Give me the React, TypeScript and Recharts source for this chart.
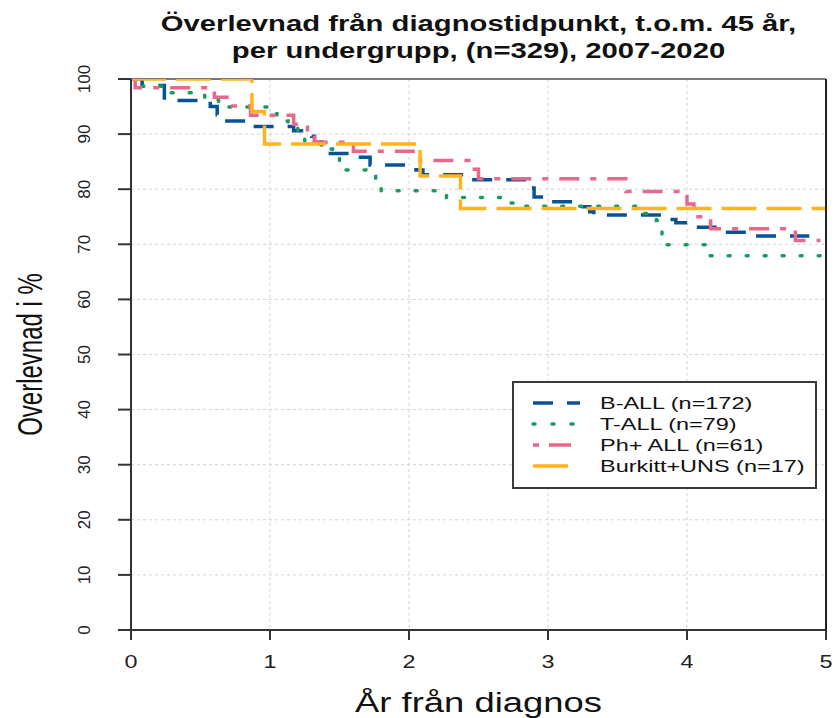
import { LineChart, Line, XAxis, YAxis, CartesianGrid, ReferenceLine } from 'recharts';

const yearTicks = [0, 1, 2, 3, 4, 5];
const pctTicks = [0, 10, 20, 30, 40, 50, 60, 70, 80, 90, 100];

// Kaplan-Meier steps: time (years) and survival (%)
const bAllTimes = [0, 0.08, 0.24, 0.57, 0.62, 0.65, 0.85, 1.17, 1.3, 1.32, 1.37, 1.62, 1.72, 2.05, 2.1, 2.42, 2.86, 2.9, 3.0, 3.23, 3.3, 3.33, 3.87, 3.92, 4.03, 4.26, 4.45, 4.88];
const bAllSurv = [100, 98.8, 96.1, 95.0, 93.5, 92.4, 91.4, 90.6, 89.6, 88.5, 86.5, 85.8, 84.4, 83.5, 82.6, 81.7, 80.2, 78.6, 77.7, 76.8, 75.9, 75.3, 74.5, 73.9, 73.1, 72.2, 71.5, 71.5];

const tAllTimes = [0, 0.03, 0.28, 0.53, 0.63, 1.01, 1.05, 1.13, 1.2, 1.25, 1.38, 1.45, 1.5, 1.52, 1.69, 1.76, 1.8, 2.27, 2.72, 2.82, 3.67, 3.78, 3.8, 3.82, 3.85, 4.15, 5];
const tAllSurv = [100, 98.7, 97.5, 96.2, 94.9, 93.7, 92.4, 91.1, 89.9, 88.6, 87.3, 86.1, 84.8, 83.5, 82.3, 81.0, 79.7, 78.5, 77.5, 76.9, 75.6, 74.3, 73.0, 71.5, 69.9, 67.9, 67.9];

const phAllTimes = [0, 0.03, 0.6, 0.69, 0.86, 1.17, 1.27, 1.32, 1.6, 2.08, 2.43, 2.5, 3.56, 4.0, 4.05, 4.17, 4.78, 4.96];
const phAllSurv = [100, 98.4, 96.7, 95.1, 93.4, 91.8, 90.2, 88.5, 86.9, 85.2, 83.6, 81.9, 79.6, 77.3, 75.0, 72.8, 70.7, 70.7];

const burkittTimes = [0, 0.87, 0.96, 2.08, 2.37, 5];
const burkittSurv = [100, 94.1, 88.2, 82.4, 76.5, 76.5];

const toSteps = (times: number[], surv: number[]) => times.map((t, i) => ({ t, s: surv[i] }));

const FONT = 'Liberation Sans, Arial, sans-serif';

const series = [
  { name: 'B-ALL (n=172)', color: '#0a5296', dash: '20 14', legendDash: '20 14', cap: 'butt', data: toSteps(bAllTimes, bAllSurv) },
  { name: 'T-ALL (n=79)', color: '#1a9a5c', dash: '2 16', legendDash: '2 17', cap: 'round', data: toSteps(tAllTimes, tAllSurv) },
  { name: 'Ph+ ALL (n=61)', color: '#e8688c', dash: '20 11 6 11', legendDash: '6 10 22 10', cap: 'butt', data: toSteps(phAllTimes, phAllSurv) },
  { name: 'Burkitt+UNS (n=17)', color: '#ffb31c', dash: '35 10', legendDash: 'none', cap: 'butt', data: toSteps(burkittTimes, burkittSurv) },
];

function XTick({ x, y, payload }: any) {
  return (
    <text transform={`translate(${x},${y + 26}) scale(1.3,1)`} textAnchor="middle" fontSize={18} fontFamily={FONT} fill="#222">
      {payload.value}
    </text>
  );
}

function YTick({ x, y, payload }: any) {
  return (
    <text transform={`translate(${x - 26},${y}) rotate(-90)`} textAnchor="middle" fontSize={17} fontFamily={FONT} fill="#222">
      {payload.value}
    </text>
  );
}

const NoTick = () => <g />;

export default function App() {
  return (
    <div style={{ position: 'absolute', left: 0, top: 0, width: 835, height: 718, background: '#fff' }}>
      <LineChart width={835} height={718} margin={{ top: 79, right: 0, bottom: 58, left: 0 }}>
        <CartesianGrid stroke="#d2d2d2" strokeDasharray="3 3" />
        <XAxis
          type="number"
          dataKey="t"
          domain={[0, 5]}
          ticks={yearTicks}
          height={30}
          tickSize={10}
          tick={XTick}
          axisLine={{ stroke: '#333', strokeWidth: 2 }}
          tickLine={{ stroke: '#333', strokeWidth: 2 }}
          allowDataOverflow
        />
        <YAxis
          type="number"
          domain={[0, 100]}
          ticks={pctTicks}
          width={131}
          tickSize={13}
          tick={YTick}
          axisLine={{ stroke: '#333', strokeWidth: 2 }}
          tickLine={{ stroke: '#333', strokeWidth: 2 }}
          allowDataOverflow
        />
        <YAxis
          yAxisId="r"
          orientation="right"
          type="number"
          domain={[0, 100]}
          ticks={pctTicks}
          width={9}
          tickSize={9}
          tick={NoTick}
          axisLine={{ stroke: '#222', strokeWidth: 2 }}
          tickLine={{ stroke: '#333', strokeWidth: 2 }}
        />
        <ReferenceLine y={100} stroke="#777" strokeWidth={2} />
        {series.map((s) => (
          <Line
            key={s.name}
            data={s.data}
            dataKey="s"
            type="stepAfter"
            stroke={s.color}
            strokeWidth={3.5}
            strokeDasharray={s.dash}
            strokeLinecap={s.cap as any}
            dot={false}
            activeDot={false}
            isAnimationActive={false}
          />
        ))}
      </LineChart>

      <svg width={835} height={718} style={{ position: 'absolute', left: 0, top: 0, pointerEvents: 'none' }} fontFamily={FONT}>
        <text transform="translate(478.5,31) scale(1.33,1)" textAnchor="middle" fontSize={22} fontWeight="bold" fill="#111">
          Överlevnad från diagnostidpunkt, t.o.m. 45 år,
        </text>
        <text transform="translate(478.5,58) scale(1.33,1)" textAnchor="middle" fontSize={22} fontWeight="bold" fill="#111">
          per undergrupp, (n=329), 2007-2020
        </text>
        <text transform="translate(478.5,712) scale(1.3,1)" textAnchor="middle" fontSize={28} fill="#111">
          År från diagnos
        </text>
        <text transform="translate(42,354.5) rotate(-90) scale(1,1.45)" textAnchor="middle" fontSize={24} fill="#111">
          Overlevnad i %
        </text>

        <g transform="translate(512,381)">
          <rect x={1} y={1} width={303} height={106} fill="#fff" stroke="#3a3a3a" strokeWidth={2} />
          {series.map((s, i) => (
            <g key={s.name} transform={`translate(0,${22 + i * 21})`}>
              <line
                x1={21}
                x2={i === 3 ? 56 : 68}
                y1={0}
                y2={0}
                stroke={s.color}
                strokeWidth={3.5}
                strokeDasharray={s.legendDash}
                strokeLinecap={s.cap as any}
              />
              <text transform="translate(88,6) scale(1.38,1)" fontSize={17} fill="#111">
                {s.name}
              </text>
            </g>
          ))}
        </g>
      </svg>
    </div>
  );
}
